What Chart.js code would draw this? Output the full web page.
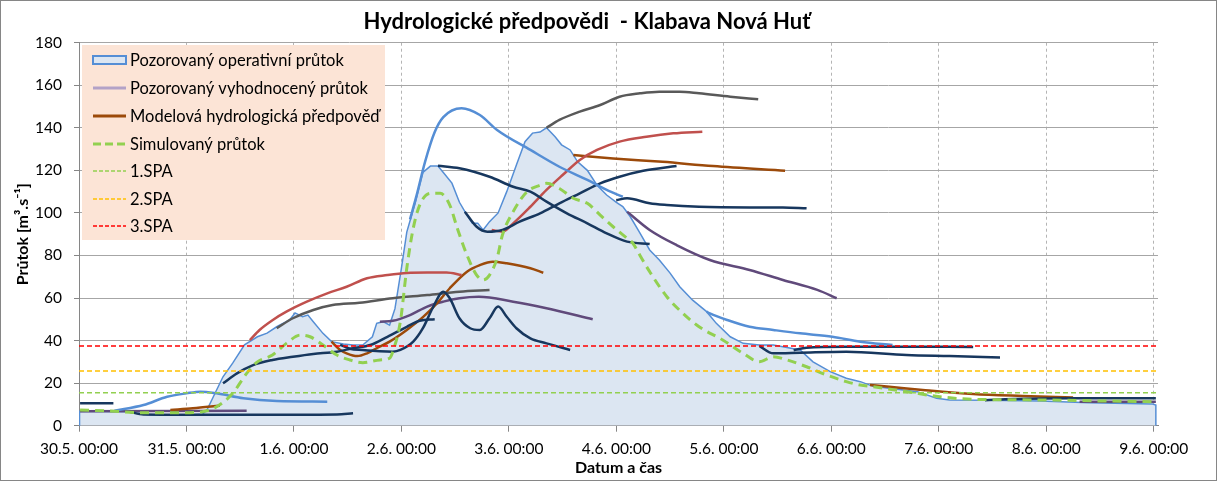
<!DOCTYPE html>
<html>
<head>
<meta charset="utf-8">
<script src="https://cdn.jsdelivr.net/npm/chart.js"></script>
<style>
  html, body { margin: 0; padding: 0; background: #fff; }
  canvas { display: block; }
</style>
</head>
<body>
<canvas id="chart" width="1217" height="481"></canvas>
<script>
// time axis: days since 30.5. 00:00
const xLabels = ["30.5. 00:00", "31.5. 00:00", "1.6. 00:00", "2.6. 00:00", "3.6. 00:00", "4.6. 00:00",
  "5.6. 00:00", "6.6. 00:00", "7.6. 00:00", "8.6. 00:00", "9.6. 00:00"];
const xMax = 10.04;

const chartTitle = "Hydrologické předpovědi  - Klabava Nová Huť";
const legendLabels = ["Pozorovaný operativní průtok", "Pozorovaný vyhodnocený průtok",
  "Modelová hydrologická předpověď", "Simulovaný průtok", "1.SPA", "2.SPA", "3.SPA"];

// flood levels (SPA)
const spaLevels = [15.5, 25.7, 37.5];

// observed operational flow
const obsT = [0, 0.005, 0.45, 0.65, 1.0, 1.15, 1.19, 1.25, 1.34, 1.43, 1.54, 1.66, 1.75, 1.84, 1.96, 2.01, 2.08, 2.13, 2.18, 2.27,
  2.35, 2.46, 2.55, 2.64, 2.73, 2.77, 2.83, 2.89, 2.94, 3.00, 3.05, 3.13, 3.20, 3.27, 3.34, 3.39, 3.47, 3.54, 3.61, 3.66,
  3.71, 3.76, 3.82, 3.90, 3.98, 4.07, 4.15, 4.22, 4.29, 4.35, 4.43, 4.49, 4.57, 4.64, 4.73, 4.82, 4.91, 5.00, 5.06, 5.13,
  5.22, 5.31, 5.40, 5.50, 5.59, 5.71, 5.84, 5.93, 6.06, 6.18, 6.33, 6.46, 6.55, 6.71, 6.83, 6.99, 7.14, 7.27, 7.39, 7.54,
  7.80, 7.98, 8.10, 8.47, 8.94, 9.40, 9.99, 10.02, 10.02];
const obsV = [0, 6.8, 6.5, 5.2, 5.0, 5.5, 7.4, 13.6, 23, 29.4, 38, 41.8, 43.5, 46.5, 49.7, 53, 51.2, 52, 48.9, 43.4,
  39.5, 38.4, 37.9, 37.9, 41.8, 48.1, 48.9, 47.3, 55, 74, 91, 105, 119, 122, 122, 119, 114, 105, 99, 95.2,
  95.2, 92, 95.9, 100, 110, 122.5, 133.5, 137.5, 138, 140, 135.8, 132, 129.6, 124, 120, 113, 108.4, 105, 103, 98.2,
  90.5, 82.6, 77.9, 71.7, 65.3, 59, 53.6, 48.1, 41.8, 38.7, 37.9, 37.9, 37.1, 35.6, 30, 25.4, 22.3, 20.7, 18.5, 17.6,
  16, 12.9, 12.1, 12, 11.6, 10.8, 10.2, 9.7, 0];

// simulated flow
const simT = [0.01, 0.29, 0.60, 0.91, 1.15, 1.28, 1.43, 1.56, 1.66, 1.80, 1.93, 2.06, 2.15, 2.27, 2.40, 2.52, 2.64, 2.80, 2.89, 2.92,
  2.99, 3.05, 3.11, 3.17, 3.27, 3.36, 3.45, 3.52, 3.61, 3.70, 3.76, 3.82, 3.89, 3.94, 4.04, 4.17, 4.29, 4.35, 4.47, 4.60,
  4.73, 4.85, 4.97, 5.10, 5.15, 5.22, 5.31, 5.47, 5.62, 5.77, 5.99, 6.18, 6.33, 6.46, 6.59, 6.77, 6.96, 7.14, 7.27, 7.39,
  7.70, 8.01, 8.32, 8.94, 9.56, 10.0];
const simV = [7.4, 6.9, 6.1, 6.1, 6.6, 8.9, 15.2, 24.6, 30, 33.2, 38.7, 42.6, 41.8, 37.9, 33.2, 30.9, 29.6, 30.9, 31.7, 34.8,
  48.9, 74, 92.8, 103.7, 109.2, 109.2, 103.7, 92.8, 80.2, 70.8, 68.5, 70.8, 78.7, 89.6, 100.6, 110, 113, 113.9, 111.5, 106.9,
  104.5, 99, 93.5, 88.1, 86, 80, 72.4, 60.6, 52.8, 46.5, 40.3, 34, 30.1, 32.4, 30.9, 27.7, 23.8, 20.7, 19.1, 18.3,
  16, 13.6, 12.4, 12.1, 11.6, 11.3];

// forecasts - light blue
const lb1T = [0.33, 0.60, 0.82, 1.00, 1.13, 1.28, 1.53, 1.84, 2.31];
const lb1V = [7, 9.7, 13.6, 15.2, 16, 15.2, 12.9, 11.6, 11.3];
const lb2T = [3.08, 3.14, 3.22, 3.31, 3.39, 3.56, 3.73, 3.89, 4.20, 4.47, 4.73, 4.91, 5.06];
const lb2V = [97, 108, 124, 138, 145, 149.2, 146, 139, 129.6, 121.7, 115.5, 110.8, 107.6];
const lb3T = [5.84, 5.87, 6.03, 6.24, 6.46, 6.71, 7.01, 7.27, 7.57];
const lb3V = [53.6, 52.8, 49.7, 46.5, 45, 43.4, 41.8, 39.5, 37.9];

// forecasts - navy
const nv1T = [0.01, 0.32];
const nv1V = [10.5, 10.5];
const nv2T = [0.47, 0.60, 1.0, 1.5, 2.0, 2.40, 2.55];
const nv2V = [6.5, 5.3, 5.2, 5.2, 5.2, 5.3, 5.8];
const nv3T = [1.34, 1.47, 1.62, 1.80, 1.99, 2.18, 2.40, 2.55, 2.71, 2.87, 3.05, 3.17, 3.31];
const nv3V = [19.9, 24.6, 28.5, 30.9, 32.4, 33.7, 34.8, 36.4, 37.9, 41.8, 46.5, 49.3, 50];
const nv4T = [2.43, 2.52, 2.64, 2.80, 2.92, 2.99, 3.11, 3.20, 3.29, 3.39, 3.45, 3.54, 3.64, 3.73, 3.82, 3.90, 3.98, 4.07, 4.20, 4.35, 4.57];
const nv4V = [38, 36.2, 35.6, 35, 34.8, 35.6, 39.5, 45.8, 55.2, 63, 59.9, 50.5, 45.8, 45, 50.5, 56, 51.2, 45.8, 41, 38.7, 35.6];
const nv5T = [3.34, 3.54, 3.82, 4.04, 4.20, 4.35, 4.54, 4.73, 4.91, 5.10, 5.31];
const nv5V = [122.2, 121, 117, 112.3, 110, 105.3, 99.8, 95.1, 90.4, 86.5, 85.4];
const nv6T = [3.59, 3.70, 3.80, 3.94, 4.10, 4.29, 4.47, 4.66, 4.85, 5.03, 5.25, 5.56];
const nv6V = [100.6, 93.5, 91.2, 92, 95.9, 99.8, 104.5, 109.2, 113.9, 117, 119.8, 122];
const nv7T = [5.00, 5.10, 5.31, 5.47, 5.77, 6.24, 6.55, 6.77];
const nv7V = [106, 106.9, 104.5, 103.7, 102.9, 102.6, 102.6, 102.2];
const nv8T = [6.33, 6.46, 6.71, 7.14, 7.70, 8.10, 8.57];
const nv8V = [37.5, 34, 34.3, 34.8, 33.2, 32.7, 32.1];
const nv9T = [6.65, 6.77, 7.14, 7.70, 8.32];
const nv9V = [35.5, 36.6, 37.1, 37.1, 37.0];
const nv10T = [8.43, 8.69, 9.25, 10.02];
const nv10V = [12.0, 12.5, 12.9, 12.9];

// forecasts - red
const rd1T = [1.59, 1.68, 1.80, 1.93, 2.12, 2.31, 2.49, 2.68, 2.87, 3.05, 3.24, 3.42, 3.56];
const rd1V = [40.2, 45, 49.6, 53.6, 58.3, 62.2, 65.3, 69.3, 70.8, 71.8, 72, 72, 70.8];
const rd2T = [3.84, 3.94, 4.04, 4.20, 4.35, 4.50, 4.66, 4.82, 5.03, 5.28, 5.53, 5.80];
const rd2V = [92, 91.2, 95.1, 102.9, 110.8, 117.8, 124.9, 129.6, 133.5, 135.8, 137.4, 138.2];

// forecasts - gray
const gr1T = [1.84, 1.99, 2.18, 2.36, 2.61, 2.92, 3.24, 3.54, 3.82];
const gr1V = [45.8, 50.5, 54.4, 56.7, 57.8, 59.9, 61.4, 63, 63.8];
const gr2T = [4.35, 4.47, 4.66, 4.85, 5.03, 5.22, 5.40, 5.59, 5.77, 6.06, 6.32];
const gr2V = [140, 143.7, 147.6, 150.7, 154.6, 156.2, 157, 157, 156.2, 154.6, 153.4];

// forecasts - brown
const br1T = [0.85, 1.06, 1.31];
const br1V = [7.4, 8.2, 9.4];
const br2T = [2.35, 2.43, 2.49, 2.59, 2.68, 2.77, 2.89, 3.05, 3.20, 3.33, 3.45, 3.61, 3.73, 3.85, 3.98, 4.20, 4.32];
const br2V = [39.5, 35.6, 34, 32.7, 34, 36.4, 39.5, 45, 51, 57.5, 64.6, 72.4, 75.5, 77.1, 76.3, 74, 71.9];
const br3T = [4.60, 4.97, 5.43, 5.90, 6.57];
const br3V = [127.2, 125.6, 124, 122, 119.8];
const br4T = [7.36, 7.54, 7.85, 8.32, 8.78, 9.25];
const br4V = [19.1, 18.3, 16.8, 14.9, 14, 13.3];

// forecasts - purple
const pu1T = [0.01, 1.56];
const pu1V = [6.8, 7];
const pu2T = [2.80, 2.92, 3.08, 3.24, 3.39, 3.54, 3.72, 4.04, 4.35, 4.78];
const pu2V = [48.9, 49.3, 52, 56, 58.3, 59.9, 60.6, 58.3, 55.2, 50];
const pu3T = [5.10, 5.31, 5.56, 5.87, 6.24, 6.55, 6.87, 7.05];
const pu3V = [100.6, 92, 84.9, 77.9, 73.2, 68.5, 63.8, 59.9];
const pu4T = [9.31, 10.02];
const pu4V = [11.3, 11.3];

const C = {
  obs: "#558ED5", obsFill: "#DCE6F2", navy: "#17375E", red: "#C0504D", gray: "#595959",
  brown: "#9C4A0A", purple: "#604A7B", lav: "#B3A2C7", sim: "#92D050", spa1: "#92D050", spa2: "#FFC000", spa3: "#FF0000"
};
const FONT = "Lato, 'Open Sans', sans-serif";

function pts(t, v) {
  const n = Math.min(t.length, v.length);
  const out = [];
  for (let i = 0; i < n; i++) out.push({ x: t[i], y: v[i] });
  return out;
}

function fc(t, v, color, width) {
  return {
    data: pts(t, v), borderColor: color, borderWidth: width || 2.5, pointRadius: 0,
    fill: false, cubicInterpolationMode: "monotone", order: 2
  };
}

function spa(level, color) {
  return {
    data: [{ x: 0, y: level }, { x: xMax, y: level }], borderColor: color, borderWidth: 1.5,
    borderDash: [5, 3], pointRadius: 0, fill: false, order: 0
  };
}

const datasets = [
  {
    data: pts(obsT, obsV), borderColor: C.obs, backgroundColor: C.obsFill, borderWidth: 1.5,
    pointRadius: 0, fill: "origin", tension: 0, order: 10
  },
  fc(lb1T, lb1V, C.obs), fc(lb2T, lb2V, C.obs), fc(lb3T, lb3V, C.obs),
  fc(nv1T, nv1V, C.navy), fc(nv2T, nv2V, C.navy), fc(nv3T, nv3V, C.navy), fc(nv4T, nv4V, C.navy),
  fc(nv5T, nv5V, C.navy), fc(nv6T, nv6V, C.navy), fc(nv7T, nv7V, C.navy), fc(nv8T, nv8V, C.navy),
  fc(nv9T, nv9V, C.navy), fc(nv10T, nv10V, C.navy),
  fc(rd1T, rd1V, C.red), fc(rd2T, rd2V, C.red),
  fc(gr1T, gr1V, C.gray), fc(gr2T, gr2V, C.gray),
  fc(br1T, br1V, C.brown), fc(br2T, br2V, C.brown), fc(br3T, br3V, C.brown), fc(br4T, br4V, C.brown),
  fc(pu1T, pu1V, C.purple), fc(pu2T, pu2V, C.purple), fc(pu3T, pu3V, C.purple), fc(pu4T, pu4V, C.purple),
  {
    data: pts(simT, simV), borderColor: C.sim, borderWidth: 3, borderDash: [9, 6], pointRadius: 0,
    fill: false, cubicInterpolationMode: "monotone", order: 1
  },
  spa(spaLevels[0], C.spa1), spa(spaLevels[1], C.spa2), spa(spaLevels[2], C.spa3)
];

// white page, frame, title and the legend box inside the plot
const deco = {
  id: "deco",
  beforeDraw(chart) {
    const ctx = chart.ctx;
    ctx.save();
    ctx.fillStyle = "#fff";
    ctx.fillRect(0, 0, chart.width, chart.height);
    ctx.restore();
  },
  afterDraw(chart) {
    const ctx = chart.ctx;
    ctx.save();

    ctx.fillStyle = "#000";
    ctx.font = "bold 22px " + FONT;
    ctx.textAlign = "center";
    ctx.textBaseline = "middle";
    ctx.fillText(chartTitle, 587, 22);

    // legend
    ctx.fillStyle = "#FCE4D6";
    ctx.fillRect(82, 45, 303, 195);
    const rowY = [60, 88, 116, 144, 171, 199, 226];
    const x0 = 93, x1 = 126;
    const line = (y, color, w, dash) => {
      ctx.beginPath();
      ctx.setLineDash(dash || []);
      ctx.strokeStyle = color;
      ctx.lineWidth = w;
      ctx.moveTo(x0, y);
      ctx.lineTo(x1, y);
      ctx.stroke();
    };
    ctx.fillStyle = C.obsFill;
    ctx.fillRect(x0, rowY[0] - 4, x1 - x0, 8);
    ctx.strokeStyle = C.obs;
    ctx.lineWidth = 2;
    ctx.strokeRect(x0, rowY[0] - 4, x1 - x0, 8);
    line(rowY[1], C.lav, 3);
    line(rowY[2], C.brown, 3);
    line(rowY[3], C.sim, 3, [8, 4]);
    line(rowY[4], C.spa1, 1.5, [4, 2]);
    line(rowY[5], C.spa2, 1.5, [4, 2]);
    line(rowY[6], C.spa3, 1.5, [4, 2]);
    ctx.setLineDash([]);
    ctx.fillStyle = "#000";
    ctx.font = "16.5px " + FONT;
    ctx.textAlign = "left";
    legendLabels.forEach((s, i) => ctx.fillText(s, 130, rowY[i] + 1));

    ctx.strokeStyle = "#868686";
    ctx.lineWidth = 1;
    ctx.strokeRect(0.5, 0.5, chart.width - 1, chart.height - 1);
    ctx.restore();
  }
};

function draw() {
  new Chart(document.getElementById("chart"), {
    type: "line",
    data: { datasets },
    plugins: [deco],
    options: {
      responsive: false,
      animation: false,
      layout: { padding: { top: 42.7, right: 59, left: 0, bottom: 0 } },
      plugins: { legend: { display: false }, title: { display: false }, tooltip: { enabled: false } },
      scales: {
        x: {
          type: "linear", min: 0, max: xMax,
          afterBuildTicks: s => { s.ticks = xLabels.map((_, i) => ({ value: i })); },
          afterFit: s => { s.height = 55.3; },
          ticks: {
            callback: (v, i) => xLabels[i], font: { family: FONT, size: 15.5 }, color: "#000",
            padding: 8, maxRotation: 0, autoSkip: false
          },
          grid: { color: "#B4B4B4", tickColor: "#868686", tickLength: 6 },
          border: { color: "#868686", dash: [3, 3] },
          title: {
            display: true, text: "Datum a čas", color: "#000",
            font: { family: FONT, size: 16, weight: "bold" }, padding: { top: 0, bottom: 4 }
          }
        },
        y: {
          min: 0, max: 180,
          afterFit: s => { s.width = 79; },
          ticks: { stepSize: 20, font: { family: FONT, size: 15.5 }, color: "#000", padding: 12 },
          grid: { color: "#A6A6A6", tickColor: "#868686", tickLength: 5 },
          border: { color: "#868686" },
          title: {
            display: true, text: "Průtok [m³.s⁻¹]", color: "#000",
            font: { family: FONT, size: 16, weight: "bold" }, padding: { top: 13, bottom: 0 }
          }
        }
      }
    }
  });
}

Promise.all([
  document.fonts.load("14px Lato"),
  document.fonts.load("bold 14px Lato")
]).then(draw, draw);
</script>
</body>
</html>
